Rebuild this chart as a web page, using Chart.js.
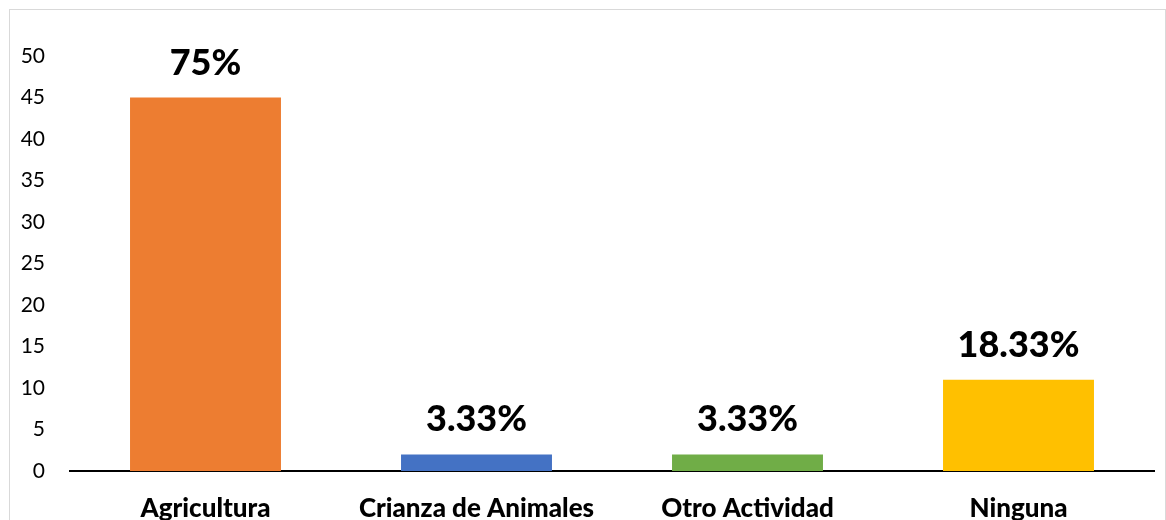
<!DOCTYPE html>
<html>
<head>
<meta charset="utf-8">
<script src="https://cdn.jsdelivr.net/npm/chart.js@4/dist/chart.umd.min.js"></script>
<style>
  html, body { margin: 0; padding: 0; background: #fff; overflow: hidden; width: 1166px; height: 520px; }
  #frame { position: absolute; left: 9px; top: 9px; width: 1155px; height: 560px; border: 1px solid #d9d9d9; border-bottom: none; }
  #wrap { position: absolute; left: 0; top: 0; width: 1155px; height: 540px; }
</style>
</head>
<body>
<div id="frame"><div id="wrap"><canvas id="c"></canvas></div></div>
<script>
const categories = ['Agricultura', 'Crianza de Animales', 'Otro Actividad', 'Ninguna'];
const counts = [45, 2, 2, 11];
const percentLabels = ['75%', '3.33%', '3.33%', '18.33%'];
const barColors = ['#ED7D31', '#4472C4', '#70AD47', '#FFC000'];
const yMin = 0, yMax = 50, yStep = 5;

const valueLabels = {
  id: 'valueLabels',
  afterDatasetsDraw(chart) {
    const ctx = chart.ctx;
    const meta = chart.getDatasetMeta(0);
    ctx.save();
    ctx.font = '900 36px Lato';
    ctx.fillStyle = '#000';
    ctx.textAlign = 'center';
    ctx.textBaseline = 'alphabetic';
    meta.data.forEach((el, i) => {
      ctx.fillText(percentLabels[i], el.x, el.y - 23);
    });
    ctx.restore();
  }
};

new Chart(document.getElementById('c'), {
  type: 'bar',
  data: {
    labels: categories,
    datasets: [{
      data: counts,
      backgroundColor: barColors,
      borderWidth: 0,
      barPercentage: 0.557,
      categoryPercentage: 1.0
    }]
  },
  options: {
    responsive: true,
    maintainAspectRatio: false,
    animation: false,
    layout: { padding: { left: 0, top: 46, right: 11, bottom: 0 } },
    plugins: { legend: { display: false }, tooltip: { enabled: false } },
    scales: {
      x: {
        grid: { display: false },
        border: { display: true, color: '#000', width: 2 },
        ticks: { color: '#000', font: { family: 'Lato', size: 26, weight: '900' }, padding: 14, maxRotation: 0, autoSkip: false },
        afterFit(scale) { scale.height = 79; }
      },
      y: {
        min: yMin, max: yMax,
        grid: { display: false },
        border: { display: false },
        ticks: { stepSize: yStep, color: '#000', font: { family: 'Lato', size: 21 }, padding: 17 },
        afterFit(scale) { scale.width = 60; }
      }
    }
  },
  plugins: [valueLabels]
});
</script>
</body>
</html>
